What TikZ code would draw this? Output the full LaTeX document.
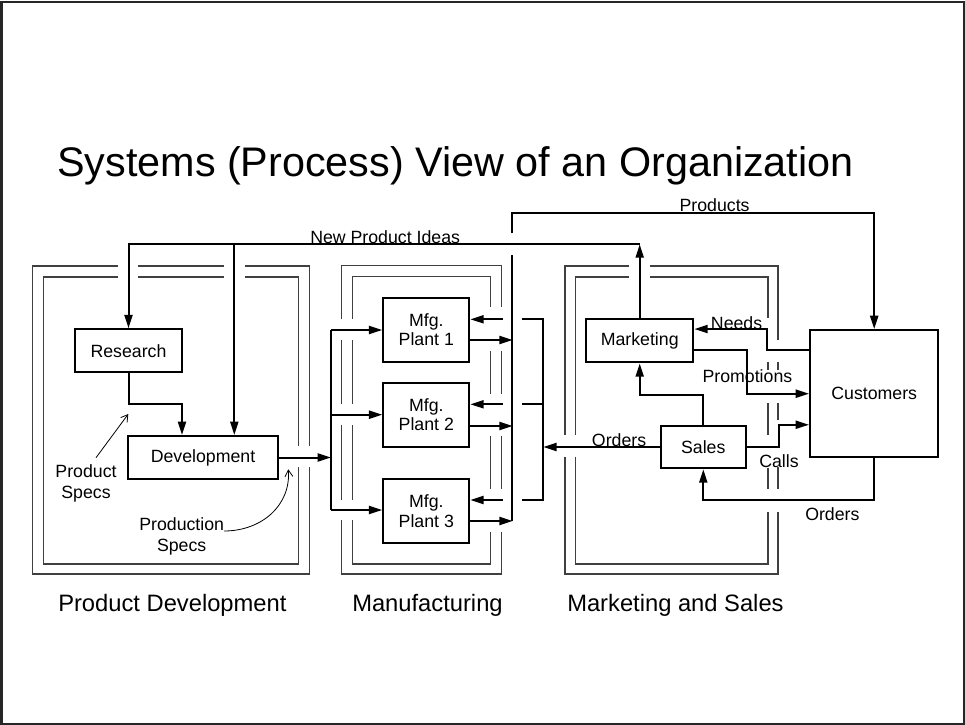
\documentclass[tikz,border=0pt]{standalone}
\usepackage{fontspec}
\setmainfont{Liberation Sans}
\usetikzlibrary{arrows.meta,calc}
\begin{document}
\begin{tikzpicture}[x=0.75pt,y=-0.75pt,
  box/.style={draw, line width=1.5pt, inner sep=0pt, align=center, font=\fontsize{13.3}{14.5}\selectfont},
  conn/.style={line width=1.5pt},
  arr/.style={line width=1.5pt, -{Triangle[length=10pt,width=6pt]}},
  frame/.style={line width=0.8pt, draw=black!75},
  note/.style={line width=0.6pt, -{Straight Barb[length=5pt,width=6pt]}},
  lbl/.style={font=\fontsize{13.3}{15.5}\selectfont, inner sep=0pt},
  biglbl/.style={font=\fontsize{17.8}{21}\selectfont, inner sep=0pt, anchor=base west}]
\useasboundingbox (0,0) rectangle (965,725);
\draw[line width=1.5pt, black!85] (1.5,1.5) rectangle (963.5,723.5);

\node[anchor=base west, inner sep=0pt, font=\fontsize{31}{37}\selectfont] (title) at (57,176) {Systems (Process) View of an Organization};

% frames
% Product Development
\draw[frame] (117.7,266) -- (32.3,266) -- (32.3,574) -- (309.3,574) -- (309.3,466.7);
\draw[frame] (309.3,445.7) -- (309.3,266) -- (245.3,266);
\draw[frame] (224.3,266) -- (138.3,266);
\draw[frame] (117.7,277) -- (43.3,277) -- (43.3,564) -- (298.7,564) -- (298.7,466.7);
\draw[frame] (298.7,445.7) -- (298.7,277) -- (245.3,277);
\draw[frame] (224.3,277) -- (138.3,277);
% Manufacturing
\draw[frame] (341.7,319) -- (341.7,265.7) -- (501.7,265.7) -- (501.7,307);
\draw[frame] (341.7,340) -- (341.7,404);
\draw[frame] (341.7,425) -- (341.7,500);
\draw[frame] (341.7,520) -- (341.7,574) -- (501.7,574) -- (501.7,532);
\draw[frame] (501.7,351) -- (501.7,394);
\draw[frame] (501.7,436) -- (501.7,489);
\draw[frame] (352.3,319) -- (352.3,276.7) -- (490.7,276.7) -- (490.7,307);
\draw[frame] (352.3,340) -- (352.3,404);
\draw[frame] (352.3,425) -- (352.3,500);
\draw[frame] (352.3,520) -- (352.3,564) -- (490.7,564) -- (490.7,532);
\draw[frame] (490.7,351) -- (490.7,394);
\draw[frame] (490.7,436) -- (490.7,489);
% Marketing and Sales
\draw[frame] (629.3,266) -- (565,266) -- (565,435);
\draw[frame] (565,456.7) -- (565,574) -- (778,574) -- (778,511.7);
\draw[frame] (650,266) -- (778,266) -- (778,340);
\draw[frame] (778,361.7) -- (778,370);
\draw[frame] (778,403) -- (778,420);
\draw[frame] (778,466.7) -- (778,489.3);
\draw[frame] (629.3,277) -- (575.7,277) -- (575.7,435);
\draw[frame] (575.7,456.7) -- (575.7,564) -- (768,564) -- (768,511.7);
\draw[frame] (650,277) -- (768,277) -- (768,318.3);
\draw[frame] (768,361.7) -- (768,370);
\draw[frame] (768,403) -- (768,435);
\draw[frame] (768,468) -- (768,489.3);

% boxes
\node[box, minimum width={107*0.75pt}, minimum height={43*0.75pt}] (research) at (128.5,350.8) {Research};
\node[box, minimum width={149.4*0.75pt}, minimum height={43*0.75pt}] (dev) at (203,457.5) {Development};
\node[box, minimum width={86*0.75pt}, minimum height={64*0.75pt}] (p1) at (426.3,329.7) {Mfg.\\Plant 1};
\node[box, minimum width={86*0.75pt}, minimum height={64*0.75pt}] (p2) at (426.3,414.7) {Mfg.\\Plant 2};
\node[box, minimum width={86*0.75pt}, minimum height={64*0.75pt}] (p3) at (426.3,511.3) {Mfg.\\Plant 3};
\node[box, minimum width={107.3*0.75pt}, minimum height={43.3*0.75pt}] (mkt) at (639.7,340.7) {Marketing};
\node[box, minimum width={85.3*0.75pt}, minimum height={42.6*0.75pt}] (sales) at (703.3,447) {Sales};
\node[box, minimum width={128.3*0.75pt}, minimum height={127.3*0.75pt}] (cust) at (874.2,393.7) {Customers};

% new product ideas
\coordinate (npi) at (639.7,244.3);
\coordinate (npib) at (234.3,244.3);
\draw[arr] (mkt.north) -- (npi);
\draw[arr] (npi) -| (research.north);
\draw[arr] (npib) -- (npib |- dev.north);
% research -> development
\coordinate (rd) at (182,403.7);
\draw[arr] (research.south) |- (rd) -- (rd |- dev.north);
% development -> plants
\coordinate (busT) at (331,330);
\coordinate (busB) at (331,510);
\draw[arr] (dev.east) -- (dev.east -| busT);
\draw[conn] (busT) -- (busB);
\draw[arr] (busT) -- (busT -| p1.west);
\draw[arr] (busT |- p2.west) -- (p2.west);
\draw[arr] (busB) -- (busB -| p3.west);
% plants -> products bus
\draw[arr] ($(p1.east)+(0,10.3)$) -- ($(p1.east)+(42.4,10.3)$);
\draw[arr] ($(p2.east)+(0,11.3)$) -- ($(p2.east)+(42.4,11.3)$);
\draw[arr] ($(p3.east)+(0,9.7)$) -- ($(p3.east)+(42.4,9.7)$);
\draw[conn] (511.7,521) -- (511.7,255);
\draw[arr] (511.7,233.3) |- (725,212.7) -| (cust.north);
% orders distribution to plants
\draw[arr] ($(p1.east)+(32.4,-10.4)$) -- ($(p1.east)+(0,-10.4)$);
\draw[arr] ($(p2.east)+(32.4,-10.4)$) -- ($(p2.east)+(0,-10.4)$);
\draw[arr] ($(p3.east)+(32.4,-11.3)$) -- ($(p3.east)+(0,-11.3)$);
\coordinate (col) at (543.3,446.7);
\draw[conn] (522.3,319.3) -- (543.3,319.3) -- (543.3,500) -- (522.3,500);
\draw[conn] (522.3,404.3) -- (543.3,404.3);
\draw[arr] (sales.west) -- (sales.west -| col);
% sales -> marketing
\draw[arr] (sales.north) |- ($(mkt.south)+(0,31.7)$) -- (mkt.south);
% needs
\draw[arr] ($(cust.north west)+(0,21)$) -- ++(-42,0) |- ($(mkt.north east)+(0,11)$);
% promotions
\draw[arr] ($(mkt.north east)+(0,32)$) -- ++(52.7,0) |- (cust.west);
% calls
\draw[arr] (sales.east) -- ++(32,0) |- ($(cust.north west)+(0,95.7)$);
% orders from customers
\draw[arr] (cust.south) -- ++(0,42) -| (sales.south);

% annotation arrows
\coordinate (psA) at (128.3,414);
\coordinate (prA) at (288.3,469.3);
\node[lbl, align=center, anchor=base] (pspecs) at (86,498.3) {Product\\Specs};
\node[lbl, align=center, anchor=base] (prspecs) at (181.7,551) {Production\\Specs};
\draw[note] (96,457.7) -- (psA);
\draw[note] (224,531) .. controls (262,531) and (291,505) .. (prA);

% labels
\node[lbl, anchor=base west] (lnpi) at (310,243) {New Product Ideas};
\node[lbl, anchor=base west] (lprod) at (679.3,211.5) {Products};
\node[lbl, anchor=base west] (lneeds) at (710.7,329) {Needs};
\node[lbl, anchor=base west] (lprom) at (702.3,382) {Promotions};
\node[lbl, anchor=base west] (lord1) at (591.7,446) {Orders};
\node[lbl, anchor=base west] (lcalls) at (759,467) {Calls};
\node[lbl, anchor=base west] (lord2) at (805,520) {Orders};

\node[biglbl] (gpd) at (58,611) {Product Development};
\node[biglbl] (gmf) at (352,611) {Manufacturing};
\node[biglbl] (gms) at (567,611) {Marketing and Sales};
\end{tikzpicture}
\end{document}
